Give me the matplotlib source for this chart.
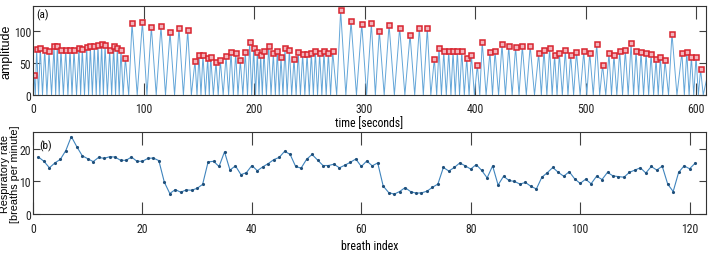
import numpy as np
import matplotlib
matplotlib.use('Agg')
import matplotlib.pyplot as plt
from matplotlib import font_manager

# peaks detected in the respiration signal (time [s], amplitude)
peak_t = [0.9, 3.3, 6.6, 10.6, 14.5, 19.0, 22.0, 25.3, 29.6, 33.5,
          37.1, 41.6, 44.6, 48.6, 51.9, 55.5, 58.8, 62.1, 65.2, 69.4,
          73.0, 76.3, 79.6, 83.6, 89.6, 99.0, 107.1, 115.8, 124.0, 132.1,
          140.0, 146.6, 150.2, 153.8, 158.1, 160.8, 165.6, 169.5, 174.7, 179.2,
          183.4, 187.6, 192.1, 196.1, 199.7, 203.0, 206.0, 209.0, 213.3, 217.5,
          221.1, 224.4, 228.0, 232.0, 236.2, 240.0, 244.0, 248.0, 251.9, 255.5,
          259.4, 263.3, 267.3, 271.2, 278.4, 287.8, 297.5, 306.2, 313.4, 322.2,
          331.8, 341.2, 349.6, 356.8, 363.2, 367.4, 371.7, 376.2, 380.1, 384.0,
          388.0, 392.5, 396.7, 402.1, 406.5, 413.5, 418.1, 424.4, 430.5, 436.7,
          442.8, 449.9, 457.6, 462.4, 467.5, 472.0, 476.3, 481.7, 486.5, 491.8,
          498.4, 503.8, 510.1, 515.4, 521.2, 525.7, 530.9, 536.0, 541.2, 545.7,
          550.2, 554.8, 559.3, 563.8, 567.7, 571.9, 578.2, 587.2, 591.6, 595.8,
          600.0, 604.1]
peak_a = [32, 72, 74, 71, 68, 76, 76, 71, 71, 71,
          70, 74, 72, 75, 76, 77, 78, 79, 78, 70,
          76, 73, 70, 58, 112, 114, 106, 107, 98, 105,
          101, 53, 62, 62, 58, 60, 52, 54, 61, 67,
          66, 54, 67, 83, 73, 67, 63, 69, 77, 65,
          69, 59, 73, 71, 57, 67, 64, 64, 66, 68,
          65, 68, 66, 68, 132, 115, 111, 112, 100, 110,
          105, 94, 105, 104, 57, 74, 68, 69, 69, 69,
          69, 58, 63, 47, 83, 67, 69, 79, 76, 75,
          76, 77, 65, 71, 74, 62, 65, 70, 63, 67,
          68, 66, 80, 47, 65, 62, 68, 70, 81, 69,
          67, 65, 64, 56, 60, 54, 96, 66, 67, 60,
          60, 40]

# troughs of the signal (time [s]); the last sample is cut by the axis edge
trough_t = [0.0, 2.1, 5.0, 8.6, 12.6, 16.8, 20.5, 23.7, 27.5, 31.6, 35.3,
            39.4, 43.1, 46.6, 50.3, 53.7, 57.2, 60.5, 63.7, 67.3, 71.2,
            74.7, 78.0, 81.6, 86.6, 94.3, 103.1, 111.5, 119.9, 128.1, 136.1,
            143.3, 148.4, 152.0, 156.0, 159.5, 163.2, 167.6, 172.1, 177.0, 181.3,
            185.5, 189.9, 194.1, 197.9, 201.4, 204.5, 207.5, 211.2, 215.4, 219.3,
            222.8, 226.2, 230.0, 234.1, 238.1, 242.0, 246.0, 250.0, 253.7, 257.5,
            261.4, 265.3, 269.3, 274.8, 283.1, 292.7, 301.9, 309.8, 317.8, 327.0,
            336.5, 345.4, 353.2, 360.0, 365.3, 369.6, 374.0, 378.2, 382.1, 386.0,
            390.3, 394.6, 399.4, 404.3, 410.0, 415.8, 421.3, 427.5, 433.6, 439.8,
            446.4, 453.8, 460.0, 465.0, 469.8, 474.2, 479.0, 484.1, 489.2, 495.1,
            501.1, 507.0, 512.8, 518.3, 523.5, 528.3, 533.5, 538.6, 543.5, 548.0,
            552.5, 557.1, 561.6, 565.8, 569.8, 575.1, 582.7, 589.4, 593.7, 597.9,
            602.1, 606.5, 609.5]
trough_a = [0] * (len(trough_t) - 1) + [24]

# respiratory rate per breath
rate = [17.5, 16.2, 14.2, 15.7, 16.8, 19.5, 23.8, 20.7, 17.9, 17.0,
        16.1, 17.4, 17.1, 17.6, 17.5, 16.5, 16.5, 17.5, 16.2, 16.2,
        17.1, 17.2, 16.4, 9.8, 6.3, 7.5, 6.7, 7.4, 7.3, 7.9,
        9.1, 16.0, 16.2, 14.6, 19.1, 13.5, 14.8, 12.1, 12.7, 14.9,
        13.3, 14.5, 15.5, 16.7, 17.4, 19.3, 18.3, 14.6, 14.1, 16.8,
        18.3, 16.6, 14.9, 14.9, 15.3, 14.2, 15.0, 15.9, 16.9, 14.6,
        16.3, 14.8, 15.7, 8.6, 6.6, 6.1, 6.9, 8.1, 6.9, 6.4,
        6.5, 7.0, 8.2, 9.2, 14.3, 13.2, 14.3, 15.7, 14.8, 13.8,
        15.2, 13.4, 11.1, 14.8, 8.9, 11.6, 10.3, 10.0, 9.2, 9.7,
        8.5, 7.7, 11.3, 12.7, 14.3, 12.8, 11.6, 13.0, 10.8, 9.4,
        10.7, 9.3, 11.6, 10.6, 12.8, 11.7, 11.5, 11.3, 12.8, 13.5,
        14.2, 12.6, 14.6, 13.5, 14.7, 9.2, 6.9, 12.8, 14.8, 13.9,
        15.6]
breath_idx = np.arange(1, len(rate) + 1)

# narrow face for ticks if one is installed
names = {f.name for f in font_manager.fontManager.ttflist}
narrow = None
for cand in ['Liberation Sans Narrow', 'Roboto Condensed', 'DejaVu Sans Condensed',
             'Open Sans Condensed', 'Noto Sans Condensed']:
    if cand in names:
        narrow = cand
        break
if narrow:
    tick_font = [narrow, 'DejaVu Sans']
    tick_size = 8.5
else:
    tick_font = ['Liberation Sans', 'DejaVu Sans']
    tick_size = 7.5
label_font = ['Liberation Sans', 'DejaVu Sans']

W, H = 712, 255
fig = plt.figure(figsize=(W / 100, H / 100), dpi=100)
ax1 = fig.add_axes([33 / W, 1 - 96 / H, 673 / W, 89 / H])
ax2 = fig.add_axes([33 / W, 1 - 215 / H, 673 / W, 82 / H])

# signal: troughs and peaks merged in time order
sig_t = np.array(trough_t + peak_t)
sig_a = np.array(trough_a + peak_a)
order = np.argsort(sig_t)
ax1.plot(sig_t[order], sig_a[order], color='#64a6d8', lw=0.7)
ax1.plot(peak_t, peak_a, 's', ms=3.6, mfc='#f3b4bc', mec='#d8242f', mew=1.1)
ax1.set_xlim(0, 609)
ax1.set_ylim(0, 139)
ax1.set_xticks(range(0, 601, 100))
ax1.set_yticks([0, 50, 100])
ax1.set_xlabel('time [seconds]', family=tick_font, fontsize=tick_size, labelpad=0.5)
ax1.set_ylabel('amplitude', family=label_font, fontsize=9)
ax1.text(0.005, 0.87, '(a)', transform=ax1.transAxes, family=tick_font, fontsize=tick_size - 0.5)

ax2.plot(breath_idx, rate, color='#3f84bd', lw=0.8, marker='.', ms=2.5,
         mfc='#1f4f7a', mec='#1f4f7a')
ax2.set_xlim(0, 123)
ax2.set_ylim(0, 25.2)
ax2.set_xticks(range(0, 121, 20))
ax2.set_yticks([0, 10, 20])
ax2.set_xlabel('breath index', family=tick_font, fontsize=tick_size, labelpad=3)
ax2.set_ylabel('Respiratory rate\n[breaths per minute]', family=label_font, fontsize=7.8,
               linespacing=0.9)
ax2.text(0.009, 0.8, '(b)', transform=ax2.transAxes, family=tick_font, fontsize=tick_size - 0.5)

for ax in (ax1, ax2):
    ax.tick_params(which='both', direction='in', top=True, right=True, colors='#404040',
                   labelcolor='#222222', width=0.8)
    ax.tick_params(axis='y', length=5, pad=1.5)
    for lab in ax.get_xticklabels() + ax.get_yticklabels():
        lab.set_family(tick_font)
        lab.set_fontsize(tick_size)
    for s in ax.spines.values():
        s.set_color('#333333')
        s.set_linewidth(0.8)
ax1.tick_params(axis='x', length=9, pad=5)
ax2.tick_params(axis='x', length=9, pad=6)

# put each y label just left of its tick labels, without leaving the figure
fig.canvas.draw()
renderer = fig.canvas.get_renderer()
for ax in (ax1, ax2):
    left_px = min(t.get_window_extent(renderer).x0 for t in ax.get_yticklabels())
    lab = ax.yaxis.label
    lab.set_ha('center')
    lab.set_va('center')
    lab.set_rotation_mode('default')
    w = lab.get_window_extent(renderer).width
    cx = max(left_px - 1.5 - w / 2, w / 2 + 0.5)
    bb = ax.get_window_extent(renderer)
    ax.yaxis.set_label_coords((cx - bb.x0) / bb.width, 0.5)

fig.savefig('out.png', dpi=100)
